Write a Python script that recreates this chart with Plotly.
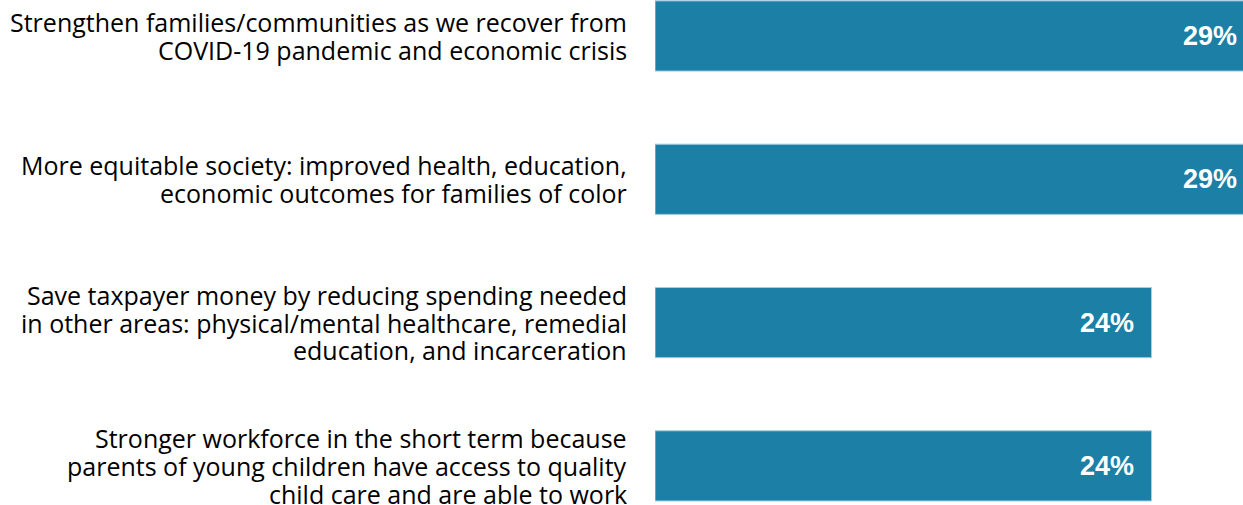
import plotly.graph_objects as go

categories = [
    "Strengthen families/communities as we recover from<br>COVID-19 pandemic and economic crisis",
    "More equitable society: improved health, education,<br>economic outcomes for families of color",
    "Save taxpayer money by reducing spending needed<br>in other areas: physical/mental healthcare, remedial<br>education, and incarceration",
    "Stronger workforce in the short term because<br>parents of young children have access to quality<br>child care and are able to work",
]
values = [29, 29, 24, 24]
value_labels = ["29%", "29%", "24%", "24%"]

BAR_COLOR = "#1b7fa6"
LABEL_FONT = dict(family="Open Sans, Arial, sans-serif", size=25, color="black")
VALUE_FONT = dict(family="Liberation Sans, Arial, sans-serif", size=27, color="white", weight="bold")
LINE_STEP = 27.7

fig = go.Figure(
    go.Bar(
        y=categories,
        x=values,
        orientation="h",
        marker=dict(color=BAR_COLOR, line=dict(color="#a6cfe0", width=1)),
        width=0.49,
        hoverinfo="skip",
    )
)

annotations = []
for cat in categories:
    lines = cat.split("<br>")
    n = len(lines)
    for j, line in enumerate(lines):
        annotations.append(dict(
            x=0, xref="paper", xanchor="right", xshift=-26,
            y=cat, yref="y", yanchor="middle",
            yshift=((n - 1) / 2 - j) * LINE_STEP,
            text=line, showarrow=False, font=LABEL_FONT,
        ))

for cat, v, lab in zip(categories, values, value_labels):
    annotations.append(dict(
        x=v, xref="x", xanchor="right", xshift=-16,
        y=cat, yref="y", yanchor="middle",
        text=lab, showarrow=False, font=VALUE_FONT,
    ))

fig.update_layout(
    width=1255,
    height=505,
    margin=dict(l=655, r=0, t=0, b=0),
    paper_bgcolor="white",
    plot_bgcolor="white",
    showlegend=False,
    annotations=annotations,
)
fig.update_xaxes(range=[0, 29], visible=False, showgrid=False, zeroline=False)
fig.update_yaxes(
    range=[3.273, -0.251],
    showgrid=False,
    zeroline=False,
    showline=False,
    ticks="",
    showticklabels=False,
)

fig.write_html(
    "out.html",
    config={"displayModeBar": False},
    post_script="document.body.style.margin='0';document.body.style.overflow='hidden';",
)
